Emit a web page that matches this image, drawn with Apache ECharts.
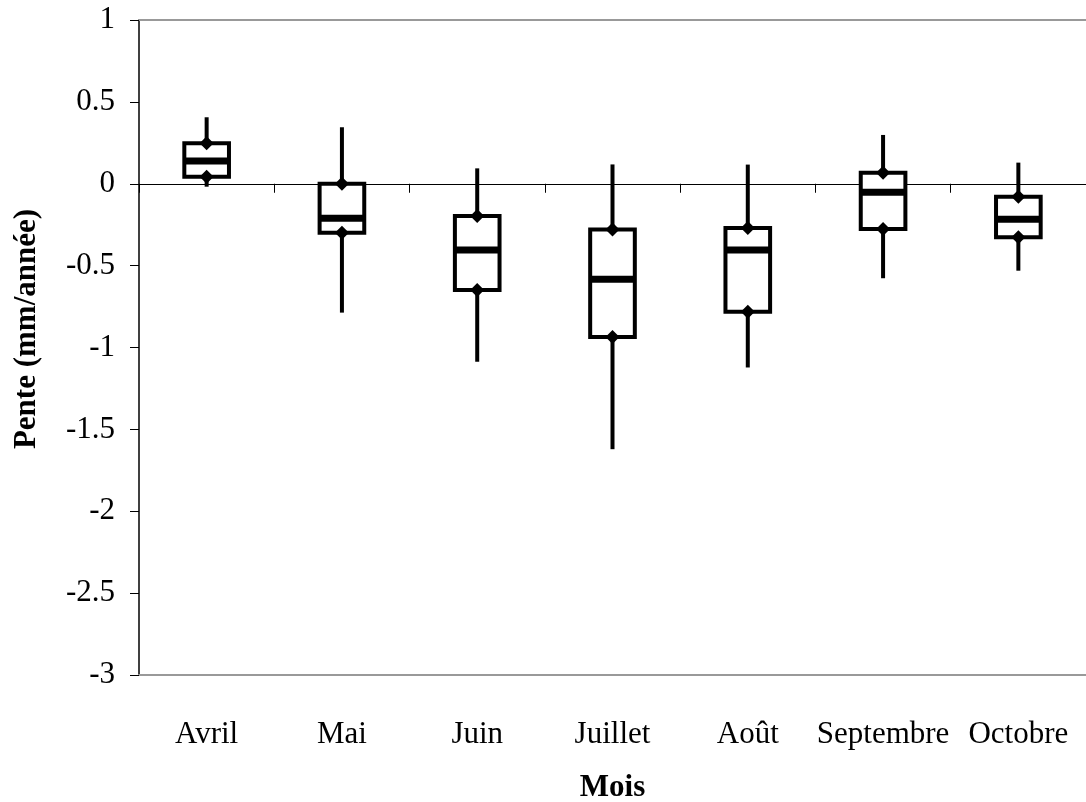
<!DOCTYPE html>
<html>
<head>
<meta charset="utf-8">
<script src="https://cdn.jsdelivr.net/npm/echarts@6/dist/echarts.min.js"></script>
<style>
  html, body { margin: 0; padding: 0; background: #fff; }
  #chart { width: 1086px; height: 802px; }
</style>
</head>
<body>
<div id="chart"></div>
<script>
// Monthly slope distributions (mm/année): whisker ends, quartiles and median
const months = ['Avril', 'Mai', 'Juin', 'Juillet', 'Août', 'Septembre', 'Octobre'];
const maxVals    = [0.406, 0.345, 0.094, 0.118, 0.117, 0.298, 0.129];
const q3Vals     = [0.247, 0.000, -0.197, -0.279, -0.270, 0.067, -0.079];
const medianVals = [0.139, -0.211, -0.405, -0.583, -0.405, -0.052, -0.217];
const q1Vals     = [0.043, -0.299, -0.649, -0.936, -0.781, -0.276, -0.327];
const minVals    = [-0.018, -0.787, -1.087, -1.621, -1.122, -0.577, -0.531];
const yTicks = { min: -3, max: 1, step: 0.5 };

const FONT = '"Liberation Serif", "DejaVu Serif", serif';
const FS = 31;

const rows = months.map((m, i) => [i, minVals[i], q1Vals[i], medianVals[i], q3Vals[i], maxVals[i]]);

function renderBox(params, api) {
  const idx = api.value(0);
  const band = api.size([1, 0])[0];
  const half = band * 0.165;
  const pMin = api.coord([idx, api.value(1)]);
  const pQ1 = api.coord([idx, api.value(2)]);
  const pMed = api.coord([idx, api.value(3)]);
  const pQ3 = api.coord([idx, api.value(4)]);
  const pMax = api.coord([idx, api.value(5)]);
  const cx = pMed[0];
  const black = '#000';
  const d = 7;
  const diamond = (y) => ({
    type: 'polygon',
    shape: { points: [[cx, y - d], [cx + d, y], [cx, y + d], [cx - d, y]] },
    style: { fill: black }
  });
  return {
    type: 'group',
    children: [
      { type: 'line', shape: { x1: cx, y1: pMax[1], x2: cx, y2: pQ3[1] }, style: { stroke: black, lineWidth: 4 } },
      { type: 'line', shape: { x1: cx, y1: pQ1[1], x2: cx, y2: pMin[1] }, style: { stroke: black, lineWidth: 4 } },
      { type: 'rect', shape: { x: cx - half, y: pQ3[1], width: half * 2, height: pQ1[1] - pQ3[1] },
        style: { fill: '#fff', stroke: black, lineWidth: 4 } },
      { type: 'line', shape: { x1: cx - half, y1: pMed[1], x2: cx + half, y2: pMed[1] }, style: { stroke: black, lineWidth: 7 } },
      diamond(pQ3[1]),
      diamond(pQ1[1])
    ]
  };
}

const chart = echarts.init(document.getElementById('chart'), null, { renderer: 'canvas' });
chart.setOption({
  animation: false,
  backgroundColor: '#fff',
  grid: { left: 139, right: 0, top: 20, bottom: 127, containLabel: false, outerBoundsMode: 'none' },
  xAxis: [
    {
      type: 'category', data: months, boundaryGap: true,
      axisLine: { onZero: true, lineStyle: { color: '#000', width: 1 } },
      axisTick: { show: true, length: 9, lineStyle: { color: '#000', width: 1 } },
      axisLabel: { show: false },
      splitLine: { show: false }
    },
    {
      type: 'category', data: months, position: 'bottom', boundaryGap: true,
      axisLine: { onZero: false, lineStyle: { color: '#999', width: 2 } },
      axisTick: { show: false },
      axisLabel: { show: true, interval: 0, margin: 44, fontFamily: FONT, fontSize: FS, color: '#000' },
      name: 'Mois', nameLocation: 'middle', nameGap: 97,
      nameTextStyle: { fontFamily: FONT, fontSize: FS, fontWeight: 'bold', color: '#000' }
    },
    {
      type: 'category', data: months, position: 'top', boundaryGap: true,
      axisLine: { onZero: false, lineStyle: { color: '#999', width: 2 } },
      axisTick: { show: false },
      axisLabel: { show: false }
    }
  ],
  yAxis: {
    type: 'value', min: yTicks.min, max: yTicks.max, interval: yTicks.step,
    axisLine: { show: true, onZero: false, lineStyle: { color: '#000', width: 1.5 } },
    axisTick: { show: true, length: 9, lineStyle: { color: '#000', width: 1 } },
    axisLabel: { margin: 24, fontFamily: FONT, fontSize: FS, color: '#000' },
    splitLine: { show: false }
  },
  graphic: [{
    type: 'text',
    x: 27, y: 329,
    rotation: Math.PI / 2,
    style: {
      text: 'Pente (mm/année)',
      font: 'bold ' + FS + 'px ' + FONT,
      fill: '#000',
      align: 'center',
      verticalAlign: 'middle'
    }
  }],
  series: [{
    type: 'custom',
    xAxisIndex: 0,
    renderItem: renderBox,
    encode: { x: 0, y: [1, 2, 3, 4, 5] },
    data: rows,
    z: 10
  }]
});
</script>
</body>
</html>
